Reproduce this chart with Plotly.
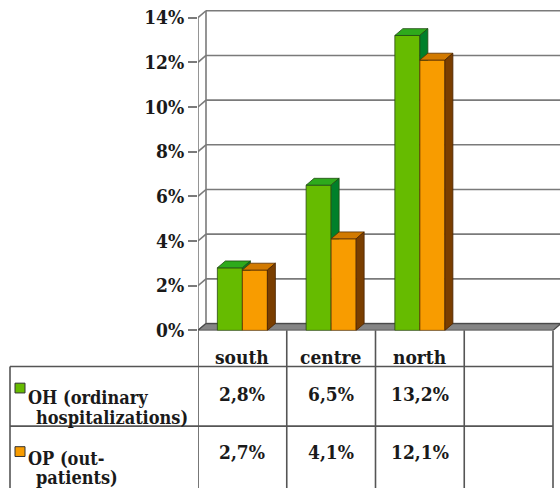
import plotly.graph_objects as go

# ---------------- data ----------------
categories = ["south", "centre", "north"]
oh_values = [2.8, 6.5, 13.2]
op_values = [2.7, 4.1, 12.1]
oh_labels = ["2,8%", "6,5%", "13,2%"]
op_labels = ["2,7%", "4,1%", "12,1%"]
oh_name = ["OH (ordinary", "hospitalizations)"]
op_name = ["OP (out-", "patients)"]
tick_values = [0, 2, 4, 6, 8, 10, 12, 14]
tick_labels = ["0%", "2%", "4%", "6%", "8%", "10%", "12%", "14%"]
n_slots = 4

# ---------------- geometry / style ----------------
W, H = 560, 488
X0PX = 198.0          # left of plot (front axis)
CATPX = 88.75         # pixels per category slot
Y0PX = 338.0          # pixel row of 0 %
PCTPX = 22.857        # pixels per 1 %
DX = 8.0 / CATPX      # 3-D depth in x (data units)
DY = 7.0 / PCTPX      # 3-D depth in y (data units)
BAR_W = 0.282
FONT = "DejaVu Serif Condensed, DejaVu Serif, serif"
GRID = "#7a7a7a"
TABLE = "#555555"
TXT_SHIFT = 7  # plotly's middle anchor sits above the glyph centre

G_FRONT, G_TOP, G_SIDE = "#66bb00", "#2eaa1c", "#00802a"
O_FRONT, O_TOP, O_SIDE = "#f89c00", "#d27a00", "#7a3e00"

xmax = -0.5 + (W - X0PX) / CATPX
ytop = (Y0PX - 5) / PCTPX


def py(px):
    return (H - px) / H


def pxx(px):
    return px / W


fig = go.Figure()

# front faces
fig.add_trace(go.Bar(x=list(range(len(categories))), y=oh_values, width=BAR_W, offset=-BAR_W,
                     marker=dict(color=G_FRONT, line=dict(color="#2a4a10", width=0.8)),
                     hoverinfo="skip", showlegend=False))
fig.add_trace(go.Bar(x=list(range(len(categories))), y=op_values, width=BAR_W, offset=0,
                     marker=dict(color=O_FRONT, line=dict(color="#5a3000", width=0.8)),
                     hoverinfo="skip", showlegend=False))


def poly_trace(xs, ys, color, line):
    return go.Scatter(x=xs, y=ys, mode="lines", fill="toself", fillcolor=color,
                      line=dict(color=line, width=0.8), hoverinfo="skip", showlegend=False)


g_top_x, g_top_y, g_side_x, g_side_y = [], [], [], []
o_top_x, o_top_y, o_side_x, o_side_y = [], [], [], []
for i, (hg, ho) in enumerate(zip(oh_values, op_values)):
    xg0, xg1 = i - BAR_W, i
    xo0, xo1 = i, i + BAR_W
    g_top_x += [xg0, xg0 + DX, xg1 + DX, xg1, xg0, None]
    g_top_y += [hg, hg + DY, hg + DY, hg, hg, None]
    lo = min(ho, hg)
    g_side_x += [xg1, xg1, xg1 + DX, xg1 + DX, xg1, None]
    g_side_y += [lo, hg, hg + DY, lo, lo, None]
    o_top_x += [xo0, xo0 + DX, xo1 + DX, xo1, xo0, None]
    o_top_y += [ho, ho + DY, ho + DY, ho, ho, None]
    o_side_x += [xo1, xo1, xo1 + DX, xo1 + DX, xo1, None]
    o_side_y += [0, ho, ho + DY, DY, 0, None]

fig.add_trace(poly_trace(g_top_x, g_top_y, G_TOP, "#1f4a10"))
fig.add_trace(poly_trace(g_side_x, g_side_y, G_SIDE, "#1f4a10"))
fig.add_trace(poly_trace(o_top_x, o_top_y, O_TOP, "#5a3000"))
fig.add_trace(poly_trace(o_side_x, o_side_y, O_SIDE, "#4a2500"))

shapes = []
for v in tick_values:
    shapes.append(dict(type="line", xref="x", yref="y", x0=-0.5 + DX, y0=v + DY, x1=xmax + 1, y1=v + DY,
                       line=dict(color=GRID, width=1.6), layer="below"))
    shapes.append(dict(type="line", xref="x", yref="y", x0=-0.5, y0=v, x1=-0.5 + DX, y1=v + DY,
                       line=dict(color=GRID, width=1.6), layer="below"))
ymax_tick = tick_values[-1]
shapes.append(dict(type="line", xref="x", yref="y", x0=-0.5 + DX, y0=DY, x1=-0.5 + DX, y1=ymax_tick + DY,
                   line=dict(color=GRID, width=1.6), layer="below"))
shapes.append(dict(type="line", xref="x", yref="y", x0=-0.5, y0=0, x1=-0.5, y1=ymax_tick,
                   line=dict(color=GRID, width=1.6), layer="below"))
xe = n_slots - 0.5
shapes.append(dict(type="path", xref="x", yref="y",
                   path=f"M -0.5,0 L {xe},0 L {xe + DX},{DY} L {-0.5 + DX},{DY} Z",
                   fillcolor="#858585", line=dict(color="#4a4a4a", width=1.2), layer="below"))

T_TOP, ROW1, ROW2, T_BOT = 338, 375, 436, 500
T_LEFT = 10
x_right_px = X0PX + n_slots * CATPX
for k in range(n_slots + 1):
    shapes.append(dict(type="line", xref="x", yref="paper", x0=-0.5 + k, x1=-0.5 + k,
                       y0=py(T_TOP), y1=py(T_BOT), line=dict(color=TABLE, width=1.6)))
for rpx in (ROW1, ROW2):
    shapes.append(dict(type="line", xref="paper", yref="paper", x0=pxx(T_LEFT), x1=pxx(x_right_px),
                       y0=py(rpx), y1=py(rpx), line=dict(color=TABLE, width=1.6)))
shapes.append(dict(type="line", xref="paper", yref="paper", x0=pxx(T_LEFT), x1=pxx(T_LEFT),
                   y0=py(ROW1), y1=py(T_BOT), line=dict(color=TABLE, width=1.6)))
for (top, col) in ((392, G_FRONT), (457, O_FRONT)):
    shapes.append(dict(type="rect", xref="paper", yref="paper", x0=pxx(15), x1=pxx(25),
                       y0=py(top + 10), y1=py(top), fillcolor=col, line=dict(color="#333333", width=1)))

tfont = dict(family=FONT, size=19, color="#1a1a1a")
lfont = dict(family=FONT, size=18, color="#1a1a1a")
ann = []


def ty(center_px):
    return py(center_px + TXT_SHIFT)


for i, c in enumerate(categories):
    ann.append(dict(text="<b>" + c + "</b>", x=i, xref="x", y=ty(358), yref="paper", showarrow=False,
                    xanchor="center", yanchor="middle", font=tfont))
    ann.append(dict(text="<b>" + oh_labels[i] + "</b>", x=i, xref="x", y=ty(396), yref="paper",
                    showarrow=False, xanchor="center", yanchor="middle", font=tfont))
    ann.append(dict(text="<b>" + op_labels[i] + "</b>", x=i, xref="x", y=ty(455), yref="paper",
                    showarrow=False, xanchor="center", yanchor="middle", font=tfont))
for lines, ys in ((oh_name, (400, 420)), (op_name, (462, 481))):
    for j, (t, yy) in enumerate(zip(lines, ys)):
        ann.append(dict(text="<b>" + t + "</b>", x=pxx(27 if j == 0 else 35), xref="paper", y=ty(yy),
                        yref="paper", showarrow=False, xanchor="left", yanchor="middle", font=lfont,
                        borderpad=0))

fig.update_layout(
    width=W, height=H, margin=dict(l=0, r=0, t=0, b=0),
    paper_bgcolor="white", plot_bgcolor="white",
    barmode="overlay", showlegend=False,
    shapes=shapes, annotations=ann,
    xaxis=dict(domain=[X0PX / W, 1], range=[-0.5, xmax], showgrid=False, zeroline=False,
               showticklabels=False, ticks="", showline=False, fixedrange=True),
    yaxis=dict(domain=[py(Y0PX), py(5)], range=[0, ytop], showgrid=False, zeroline=False,
               tickvals=tick_values, ticktext=["<b>" + t + "</b>" for t in tick_labels],
               ticks="outside", ticklen=9,
               tickcolor=GRID, tickwidth=1.6, showline=False, fixedrange=True,
               tickfont=dict(family=FONT, size=19, color="#1a1a1a")),
)

fig.write_html("out.html")
